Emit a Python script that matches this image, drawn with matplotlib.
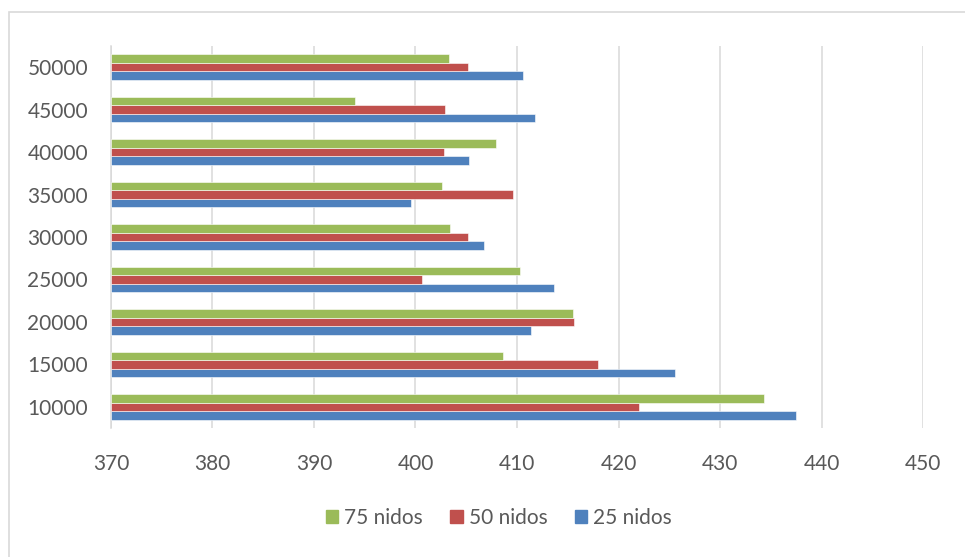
import matplotlib.pyplot as plt
import numpy as np
from matplotlib.patches import Rectangle, Patch

plt.rcParams['font.family'] = ['Lato', 'DejaVu Sans']

categories = ['10000', '15000', '20000', '25000', '30000',
              '35000', '40000', '45000', '50000']
nidos_25 = [437.5, 425.6, 411.4, 413.6, 406.7, 399.6, 405.3, 411.8, 410.6]
nidos_50 = [422.0, 418.0, 415.6, 400.6, 405.2, 409.6, 402.8, 402.9, 405.2]
nidos_75 = [434.3, 408.6, 415.5, 410.3, 403.4, 402.6, 407.9, 394.0, 403.3]

blue = '#4F81BD'
red = '#C0504D'
green = '#9BBB59'
text_col = '#595959'
grid_col = '#D9D9D9'

fig = plt.figure(figsize=(9.65, 5.57), dpi=100)
ax = fig.add_axes([0.115, 0.2316, 0.8415, 0.6858])

y = np.arange(len(categories))
h = 0.2
base = 370
ax.barh(y - h, np.array(nidos_25) - base, h, left=base, color=blue,
        edgecolor='white', linewidth=0.4, zorder=3)
ax.barh(y, np.array(nidos_50) - base, h, left=base, color=red,
        edgecolor='white', linewidth=0.4, zorder=3)
ax.barh(y + h, np.array(nidos_75) - base, h, left=base, color=green,
        edgecolor='white', linewidth=0.4, zorder=3)

ax.set_xlim(370, 450)
ax.set_ylim(-0.5, 8.5)
ax.set_xticks(np.arange(370, 451, 10))
ax.set_yticks(y)
ax.set_yticklabels(categories)

ax.grid(axis='x', color=grid_col, linewidth=1.1, zorder=0)
for s in ['top', 'right', 'bottom']:
    ax.spines[s].set_visible(False)
ax.spines['left'].set_color(grid_col)
ax.spines['left'].set_linewidth(1.1)
ax.tick_params(axis='both', length=0, labelsize=15, labelcolor=text_col)
ax.tick_params(axis='x', pad=18.5)
ax.tick_params(axis='y', pad=16.5)

handles = [Patch(color=green, label='75 nidos'),
           Patch(color=red, label='50 nidos'),
           Patch(color=blue, label='25 nidos')]
leg = fig.legend(handles=handles, loc='center', ncol=3,
                 bbox_to_anchor=(0.517, 0.07), frameon=False,
                 fontsize=15, handlelength=0.6, handleheight=0.6,
                 handletextpad=0.3, columnspacing=1.3)
for t in leg.get_texts():
    t.set_color(text_col)

# chart area border
fig.add_artist(Rectangle((0.0093, -0.1), 1.2, 1.0785, transform=fig.transFigure,
                         fill=False, edgecolor=grid_col, linewidth=1.2))

fig.savefig('out.png', dpi=100)
